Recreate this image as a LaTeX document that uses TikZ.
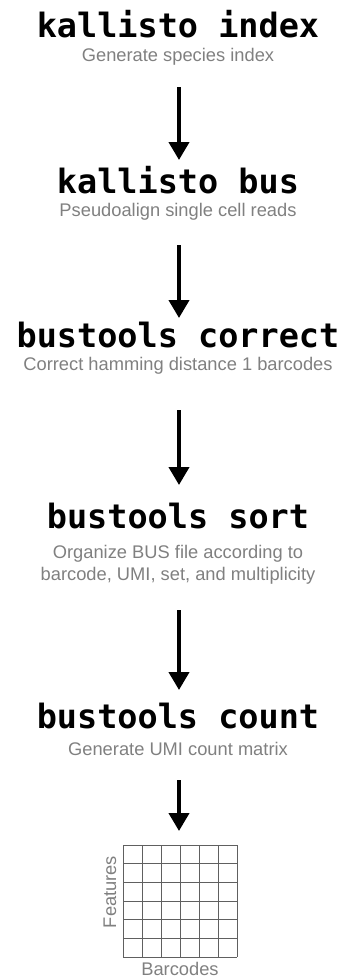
\documentclass[tikz,border=0pt]{standalone}
\usepackage{fontspec}
\usetikzlibrary{arrows.meta}
\newfontfamily\titlefont{DejaVu Sans Mono}
\newfontfamily\subfont{Liberation Sans}
\definecolor{subgray}{HTML}{808080}
\definecolor{gridgray}{HTML}{606060}
\begin{document}
\begin{tikzpicture}[x=1pt,y=-1pt,
  title/.style={anchor=base,inner sep=0pt,font=\titlefont\bfseries\fontsize{33.5}{40}\selectfont},
  sub/.style={anchor=base,inner sep=0pt,text=subgray,font=\subfont\fontsize{18.3}{21.5}\selectfont,align=center},
  flow/.style={line width=4pt,-{Triangle[width=20pt,length=18pt]}},
  gridline/.style={draw=gridgray,line width=0.9pt}]
\useasboundingbox (0,0) rectangle (350,978);
\node[title] (t1) at (178,37) {kallisto index};
\node[sub] (s1) at (178,61) {Generate species index};
\node[title] (t2) at (178,193) {kallisto bus};
\node[sub] (s2) at (178,216) {Pseudoalign single cell reads};
\node[title] (t3) at (178,347) {bustools correct};
\node[sub] (s3) at (178,370) {Correct hamming distance 1 barcodes};
\node[title] (t4) at (178,528) {bustools sort};
\node[sub] (s4) at (178,580) {Organize BUS file according to\\barcode, UMI, set, and multiplicity};
\node[title] (t5) at (178,728) {bustools count};
\node[sub] (s5) at (178,755) {Generate UMI count matrix};
\coordinate (a1s) at (179,87);  \coordinate (a1e) at (179,160);
\coordinate (a2s) at (179,245); \coordinate (a2e) at (179,318);
\coordinate (a3s) at (179,410); \coordinate (a3e) at (179,485);
\coordinate (a4s) at (179,610); \coordinate (a4e) at (179,690);
\coordinate (a5s) at (179,780); \coordinate (a5e) at (179,831);
\draw[flow] (a1s) -- (a1e);
\draw[flow] (a2s) -- (a2e);
\draw[flow] (a3s) -- (a3e);
\draw[flow] (a4s) -- (a4e);
\draw[flow] (a5s) -- (a5e);
\foreach \i in {0,...,6}{
  \draw[gridline] (123+19*\i,845) -- (123+19*\i,957);
  \draw[gridline] (123,845+18.67*\i) -- (237,845+18.67*\i);
}
\node[sub,anchor=center,rotate=90] (feat) at (110,892) {Features};
\node[sub,anchor=center] (bar) at (180,969) {Barcodes};
\end{tikzpicture}
\end{document}
